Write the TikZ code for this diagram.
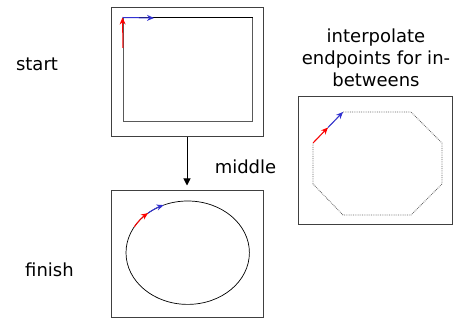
\documentclass[tikz,border=0pt]{standalone}
\usepackage{fontspec}
\setmainfont{DejaVu Sans}
\usetikzlibrary{arrows.meta,shapes.geometric,calc}
\definecolor{arrblue}{RGB}{50,50,210}
\begin{document}
\begin{tikzpicture}[x=1pt,y=1pt,
  frame/.style={draw=black!75,line width=1pt,rectangle,inner sep=0pt},
  lbl/.style={font=\fontsize{18}{22}\selectfont,inner sep=0pt},
  redarr/.style={draw=red,line width=1pt,-{Stealth[length=7pt,width=6pt]}},
  bluearr/.style={draw=arrblue,line width=1pt,-{Stealth[length=7pt,width=6pt]}}]
\useasboundingbox (0,0) rectangle (468,320);
% boxes
\node[frame,minimum width=152pt,minimum height=129pt] (startbox) at (187,247.5) {};
\node[frame,minimum width=152pt,minimum height=127pt] (finishbox) at (187,65.5) {};
\node[frame,minimum width=154pt,minimum height=128pt] (midbox) at (375,159) {};
% start content
\node[draw=black!65,line width=1pt,rectangle,minimum width=129pt,minimum height=104pt,inner sep=0pt] (innerrect) at (187.5,250) {};
\draw[line width=1pt] (innerrect.north west) -- (innerrect.north east);
\coordinate (sA) at (123,272);
\coordinate (sB) at (154,302);
\draw[redarr] (sA) -- (innerrect.north west);
\draw[bluearr] (innerrect.north west) -- (sB);
% finish content
\node[draw,ellipse,line width=0.7pt,minimum width=123.4pt,minimum height=103.4pt,inner sep=0pt] (ell) at (187.7,67.3) {};
\coordinate (eA) at ($(187.7,67.3)+({61.7*cos(150)},{51.7*sin(150)})$);
\draw[redarr] (eA) arc[start angle=150,end angle=130,x radius=61.7,y radius=51.7] coordinate (eB);
\draw[bluearr] (eB) arc[start angle=130,end angle=113,x radius=61.7,y radius=51.7];
% octagon
\coordinate (o1) at (343,208);
\coordinate (o2) at (411,208);
\coordinate (o3) at (442,177);
\coordinate (o4) at (442,136);
\coordinate (o5) at (411,105);
\coordinate (o6) at (343,105);
\coordinate (o7) at (313,136);
\coordinate (o8) at (313,177);
\coordinate (om) at (328,192.5);
\draw[black!60,line width=0.8pt,densely dotted] (o1) -- (o2) -- (o3) -- (o4) -- (o5) -- (o6) -- (o7) -- (o8) -- cycle;
\draw[redarr] (o8) -- (om);
\draw[bluearr] (om) -- (o1);
% arrow
\draw[line width=1pt,-{Triangle[length=7pt,width=7pt]},shorten >=5pt] (startbox.south) -- (finishbox.north);
% labels
\node[lbl] (tstart) at (37,256) {start};
\node[lbl] (tfinish) at (49.5,50) {finish};
\node[lbl] (tmiddle) at (245.5,153) {middle};
\node[lbl,align=center] (tinterp) at (376,262) {interpolate\\endpoints for in-\\betweens};
\end{tikzpicture}
\end{document}
